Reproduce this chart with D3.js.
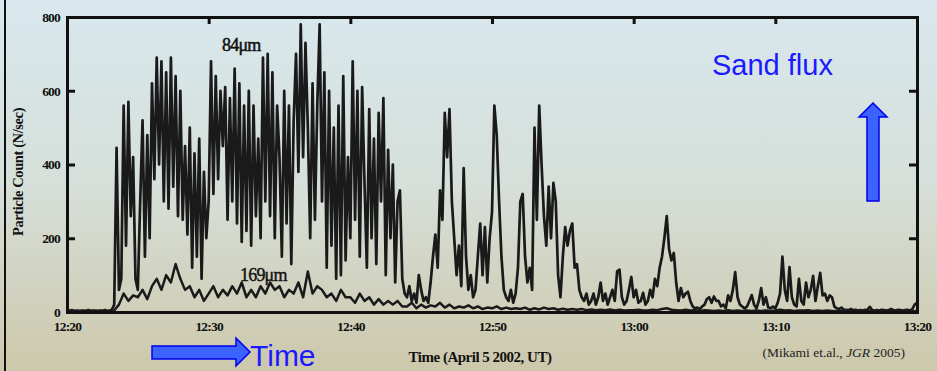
<!DOCTYPE html>
<html>
<head>
<meta charset="utf-8">
<script src="https://cdn.jsdelivr.net/npm/d3@7"></script>
<style>
  html, body { margin: 0; padding: 0; }
  svg { display: block; }
  .tick text { font-family: "Liberation Serif", "Times New Roman", serif; font-weight: bold; font-size: 13.5px; fill: #111; }
</style>
</head>
<body>
<div id="chart"></div>
<script>
// 84um counts, one value every 10 s from 12:20:00 (6 per minute)
var flux84 = [
  4,3,5,3,4,3,  3,4,3,5,3,4,  4,3,4,3,5,3,  4,6,20,445,60,90,
  560,180,570,260,420,90,  60,300,520,150,480,200,  620,360,690,400,680,300,  650,280,690,340,640,260,
  600,250,450,210,500,120,  430,150,470,90,380,200,  300,680,320,640,360,600,  450,610,250,580,300,660,
  240,620,190,560,220,600,  180,560,260,470,200,690,  300,700,260,650,200,560,  420,150,600,240,560,130,
  520,700,380,780,420,730,  500,200,620,250,560,780,  300,650,120,600,180,500,  90,560,100,640,140,420,
  200,680,250,600,150,610,  350,120,550,200,470,130,  540,300,580,100,440,200,  400,80,300,330,90,50,
  40,70,30,50,25,100,  60,30,40,25,80,150,  210,120,330,250,540,420,  550,300,200,100,180,70,
  390,150,60,100,40,60,  150,240,100,230,80,200,  270,560,480,300,150,60,  40,30,60,25,50,120,
  300,320,150,80,120,60,  500,250,560,400,260,180,  340,200,350,300,100,40,  150,230,180,220,240,120,
  130,60,40,30,50,20,  30,50,20,40,80,30,  50,20,40,60,30,110,  115,40,20,30,60,95,
  40,60,25,30,52,20,  30,60,40,90,70,120,  150,200,260,170,140,160,  80,30,65,40,50,55,
  30,15,10,12,8,15,  20,35,40,25,42,30,  30,15,20,10,45,30,  60,108,40,20,15,10,
  15,30,46,20,10,30,  65,20,40,12,10,15,  10,25,50,150,60,30,  122,40,20,15,90,30,
  20,80,40,60,98,30,  70,106,45,50,30,45,  40,15,10,8,12,6,  6,5,8,5,6,4,
  5,4,6,5,14,5,  4,5,4,6,5,4,  5,8,5,4,6,5,  4,5,6,4,8,20,
  25
];

// 169um counts, one value every 20 s from 12:20:00 (3 per minute)
var flux169 = [
  2,3,2, 3,2,3, 2,3,2, 3,4,20, 50,30,45, 40,60,35, 70,90,60, 100,80,130, 90,60,70, 40,60,30,
  50,70,40, 60,45,70, 50,80,40, 60,40,70, 50,80,60, 70,40,60, 50,80,40, 110,50,70, 60,40,50, 30,60,40,
  40,25,50, 30,40,20, 35,20,30, 20,30,15, 15,25,10, 20,12,18, 15,25,12, 20,10,15, 12,18,10, 15,8,12,
  10,15,8, 12,8,10, 8,12,6, 10,7,12, 8,10,6, 9,6,8, 6,8,5, 7,5,6, 5,7,4, 6,4,5,
  5,6,4, 4,6,5, 8,10,6, 5,4,6, 4,5,3, 5,4,3, 4,3,5, 3,4,3, 4,3,4, 3,4,3,
  4,6,4, 5,3,4, 4,5,3, 4,3,4, 3,2,3, 2,3,2, 2,3,2, 2,3,2, 2,3,2, 2,3,2,
  3
];

var xTickLabels = ['12:20', '12:30', '12:40', '12:50', '13:00', '13:10', '13:20'];
var yTicks = [0, 200, 400, 600, 800];

var width = 937, height = 371;
var startTime = new Date(2002, 3, 5, 12, 20, 0);
var endTime = new Date(2002, 3, 5, 13, 20, 0);

function timeAt(i, stepSec){
  return new Date(startTime.getTime() + i * stepSec * 1000);
}

var svg = d3.select('#chart').append('svg')
  .attr('width', width)
  .attr('height', height);

var defs = svg.append('defs');
var grad = defs.append('linearGradient')
  .attr('id', 'bg').attr('x1', 0).attr('y1', 0).attr('x2', 0).attr('y2', 1);
grad.append('stop').attr('offset', '0%').attr('stop-color', '#d8e8ee');
grad.append('stop').attr('offset', '50%').attr('stop-color', '#d6dfd9');
grad.append('stop').attr('offset', '100%').attr('stop-color', '#cdc8ab');

svg.append('rect').attr('width', width).attr('height', height).attr('fill', 'url(#bg)');

// slide frame on the left
svg.append('line')
  .attr('x1', 5).attr('x2', 5).attr('y1', 0).attr('y2', height)
  .attr('stroke', '#111').attr('stroke-width', 2);

var x = d3.scaleTime().domain([startTime, endTime]).range([67, 917]);
var y = d3.scaleLinear().domain([0, 800]).range([312, 17]);

var line = d3.line()
  .x(function(d){ return x(d.t); })
  .y(function(d){ return y(d.v); });

var data169 = flux169.map(function(v, i){ return {t: timeAt(i, 20), v: v}; });
var data84 = flux84.map(function(v, i){ return {t: timeAt(i, 10), v: v}; });

svg.append('path')
  .datum(data169)
  .attr('d', line)
  .attr('fill', 'none')
  .attr('stroke', '#1a1a1a')
  .attr('stroke-width', 2.5)
  .attr('stroke-linejoin', 'round');

svg.append('path')
  .datum(data84)
  .attr('d', line)
  .attr('fill', 'none')
  .attr('stroke', '#1a1a1a')
  .attr('stroke-width', 2.7)
  .attr('stroke-linejoin', 'round');

var xTickValues = xTickLabels.map(function(s){
  var p = s.split(':');
  return new Date(2002, 3, 5, +p[0], +p[1], 0);
});

// bottom axis
var xAxis = svg.append('g')
  .attr('transform', 'translate(0,312)')
  .call(d3.axisBottom(x).tickValues(xTickValues).tickSize(0).tickPadding(9)
    .tickFormat(function(d, i){ return xTickLabels[i]; }));
xAxis.select('.domain').attr('stroke', '#111').attr('stroke-width', 3);
xAxis.selectAll('text').attr('letter-spacing', '-0.8');

// top axis, ticks inward
var xTop = svg.append('g')
  .attr('transform', 'translate(0,17)')
  .call(d3.axisTop(x).tickValues(xTickValues.slice(1, -1)).tickSize(-7).tickFormat(''));
xTop.select('.domain').attr('stroke', '#111').attr('stroke-width', 3);
xTop.selectAll('.tick line').attr('stroke', '#111').attr('stroke-width', 3);

// left axis, ticks inward
var yAxis = svg.append('g')
  .attr('transform', 'translate(67,0)')
  .call(d3.axisLeft(y).tickValues(yTicks).tickSize(-8).tickPadding(7));
yAxis.select('.domain').attr('stroke', '#111').attr('stroke-width', 3);
yAxis.selectAll('.tick line').attr('stroke', '#111').attr('stroke-width', 3);
yAxis.selectAll('text').attr('letter-spacing', '-0.8');

// right axis, ticks inward
var yRight = svg.append('g')
  .attr('transform', 'translate(917,0)')
  .call(d3.axisRight(y).tickValues(yTicks.slice(1, -1)).tickSize(-8).tickFormat(''));
yRight.select('.domain').attr('stroke', '#111').attr('stroke-width', 3);
yRight.selectAll('.tick line').attr('stroke', '#111').attr('stroke-width', 3);

svg.selectAll('.domain').attr('stroke-linecap', 'square');

// axis titles
svg.append('text')
  .attr('transform', 'translate(23,172) rotate(-90)')
  .attr('text-anchor', 'middle')
  .style('font-family', '"Liberation Serif", "Times New Roman", serif')
  .style('font-weight', 'bold')
  .style('font-size', '14.5px')
  .attr('letter-spacing', '-0.4')
  .attr('fill', '#111')
  .text('Particle Count (N/sec)');

svg.append('text')
  .attr('x', 480).attr('y', 362)
  .attr('text-anchor', 'middle')
  .style('font-family', '"Liberation Serif", "Times New Roman", serif')
  .style('font-weight', 'bold')
  .style('font-size', '15px')
  .attr('letter-spacing', '-0.5')
  .attr('fill', '#111')
  .text('Time (April 5 2002, UT)');

// series labels
svg.append('text')
  .attr('x', 222).attr('y', 51)
  .style('font-family', '"Liberation Serif", "Times New Roman", serif')
  .style('font-size', '18px')
  .attr('letter-spacing', '-0.8')
  .attr('fill', '#111')
  .attr('stroke', '#111').attr('stroke-width', 0.5)
  .text('84\u03bcm');

svg.append('text')
  .attr('x', 240).attr('y', 281)
  .style('font-family', '"Liberation Serif", "Times New Roman", serif')
  .style('font-size', '18px')
  .attr('letter-spacing', '-0.8')
  .attr('fill', '#111')
  .attr('stroke', '#111').attr('stroke-width', 0.4)
  .text('169\u03bcm');

// citation
var cite = svg.append('text')
  .attr('x', 905).attr('y', 357)
  .attr('text-anchor', 'end')
  .style('font-family', '"Liberation Serif", "Times New Roman", serif')
  .style('font-size', '13.5px')
  .attr('fill', '#222');
cite.append('tspan').text('(Mikami et.al., ');
cite.append('tspan').style('font-style', 'italic').text('JGR');
cite.append('tspan').text(' 2005)');

// blue annotations
svg.append('text')
  .attr('x', 712).attr('y', 75)
  .style('font-family', '"Liberation Sans", Arial, sans-serif')
  .style('font-size', '29px')
  .attr('fill', '#1a1aff')
  .text('Sand flux');

svg.append('text')
  .attr('x', 250).attr('y', 366)
  .style('font-family', '"Liberation Sans", Arial, sans-serif')
  .style('font-size', '30px')
  .attr('fill', '#1a1aff')
  .text('Time');

// up arrow
svg.append('path')
  .attr('d', 'M873,103 L887,117 L879,117 L879,201 L867,201 L867,117 L859,117 Z')
  .attr('fill', '#3d63ff')
  .attr('stroke', '#0000ee')
  .attr('stroke-width', 1.5)
  .attr('stroke-linejoin', 'miter');

// right arrow
svg.append('path')
  .attr('d', 'M152,346 L236,346 L236,338 L250,352 L236,366 L236,359 L152,359 Z')
  .attr('fill', '#3d63ff')
  .attr('stroke', '#0000ee')
  .attr('stroke-width', 1.5)
  .attr('stroke-linejoin', 'miter');
</script>
</body>
</html>
